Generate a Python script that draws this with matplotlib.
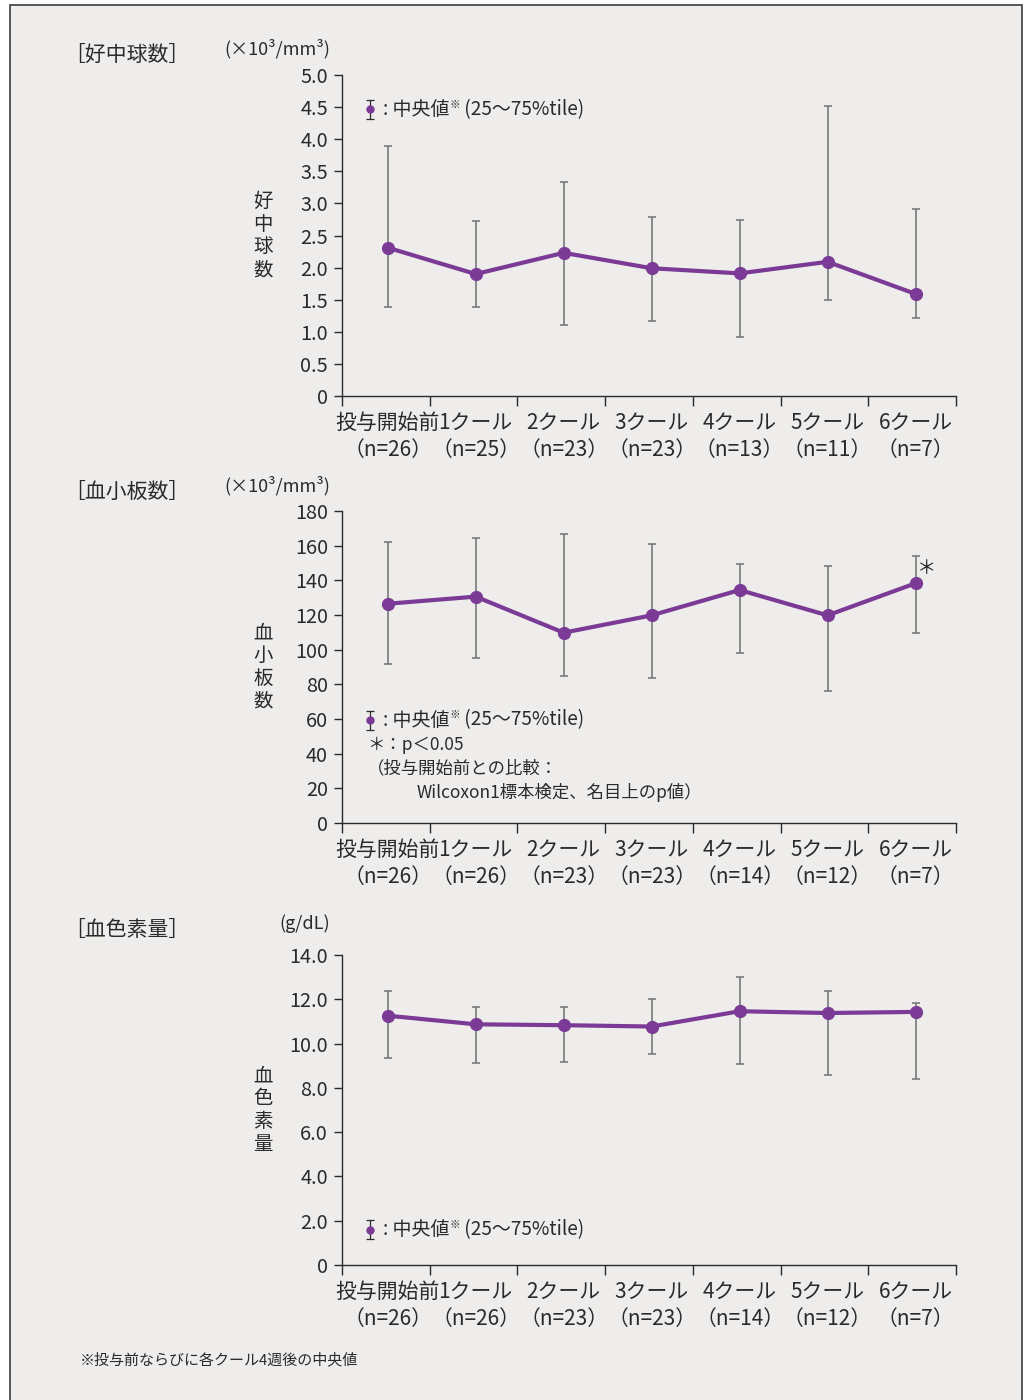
"""
Median blood counts (neutrophils, platelets, haemoglobin) before treatment
and after each course, with 25-75 percentile bars.
"""
import numpy as np
import matplotlib.pyplot as plt
from matplotlib.patches import Rectangle

plt.rcParams['font.family'] = ['Noto Sans CJK JP', 'DejaVu Sans']

PURPLE = '#7B3A96'
GREY = '#707070'
INK = '#2A2A2A'
PANEL_BG = '#EEEDEB'

STAGES = ['投与開始前', '1クール', '2クール', '3クール', '4クール', '5クール', '6クール']

# neutrophils (x10^3/mm^3)
neut_n = [26, 25, 23, 23, 13, 11, 7]
neut_med = [2.31, 1.90, 2.23, 1.99, 1.91, 2.09, 1.59]
neut_q25 = [1.39, 1.39, 1.11, 1.17, 0.92, 1.50, 1.21]
neut_q75 = [3.89, 2.73, 3.33, 2.79, 2.74, 4.52, 2.92]
neut_ticks = [0, 0.5, 1.0, 1.5, 2.0, 2.5, 3.0, 3.5, 4.0, 4.5, 5.0]
neut_ticklabels = ['0', '0.5', '1.0', '1.5', '2.0', '2.5', '3.0', '3.5', '4.0', '4.5', '5.0']

# platelets (x10^3/mm^3)
plt_n = [26, 26, 23, 23, 14, 12, 7]
plt_med = [126.5, 130.6, 109.8, 119.8, 134.4, 119.8, 138.3]
plt_q25 = [91.5, 95.0, 85.0, 83.5, 97.9, 76.3, 109.4]
plt_q75 = [161.9, 164.4, 166.9, 160.8, 149.6, 148.3, 154.0]
plt_sig = [False, False, False, False, False, False, True]
plt_ticks = [0, 20, 40, 60, 80, 100, 120, 140, 160, 180]
plt_ticklabels = ['0', '20', '40', '60', '80', '100', '120', '140', '160', '180']

# haemoglobin (g/dL)
hb_n = [26, 26, 23, 23, 14, 12, 7]
hb_med = [11.26, 10.87, 10.83, 10.77, 11.46, 11.38, 11.43]
hb_q25 = [9.35, 9.11, 9.17, 9.53, 9.07, 8.59, 8.38]
hb_q75 = [12.39, 11.67, 11.64, 12.00, 13.02, 12.39, 11.82]
hb_ticks = [0, 2, 4, 6, 8, 10, 12, 14]
hb_ticklabels = ['0', '2.0', '4.0', '6.0', '8.0', '10.0', '12.0', '14.0']

TICK_FS = 14.3
XLABEL_FS = 15
NOTE_FS = 12.5
KEY_FS = 13.7
XLIM = (-0.52, 6.46)


def draw_panel(ax, med, q25, q75, n, ticks, ticklabels, ylabel):
    x = np.arange(len(STAGES))
    med = np.asarray(med)
    err = [med - np.asarray(q25), np.asarray(q75) - med]

    ax.errorbar(x, med, yerr=err, fmt='none', ecolor=GREY, elinewidth=1.1,
                capsize=2.6, capthick=1.1, zorder=2)
    ax.plot(x, med, color=PURPLE, lw=3.0, marker='o', ms=8.5, zorder=3)

    ax.set_facecolor('none')
    for side in ('top', 'right'):
        ax.spines[side].set_visible(False)
    for side in ('left', 'bottom'):
        ax.spines[side].set_color(INK)
        ax.spines[side].set_linewidth(1.0)

    ax.set_xlim(*XLIM)
    ax.set_ylim(ticks[0], ticks[-1])
    ax.set_yticks(ticks)
    ax.set_yticklabels(ticklabels, fontsize=TICK_FS, color=INK)
    ax.tick_params(axis='y', length=6, width=1.0, color=INK, pad=4)

    # evenly spaced separator ticks, labels centred on the stages
    ax.set_xticks(np.linspace(XLIM[0], XLIM[1], len(STAGES) + 1))
    ax.set_xticklabels([])
    ax.tick_params(axis='x', which='major', length=7, width=1.0, color=INK)
    ax.set_xticks(x, minor=True)
    ax.set_xticklabels([f"{s}\n（n={k}）" for s, k in zip(STAGES, n)],
                       minor=True, fontsize=XLABEL_FS, color=INK, linespacing=1.3)
    ax.tick_params(axis='x', which='minor', length=0, pad=11.5)

    ax.set_ylabel("\n".join(ylabel), rotation=0, fontsize=14, color=INK,
                  ha='center', va='center', linespacing=1.12)
    ax.yaxis.set_label_coords(-0.129, 0.5)


def median_key(ax, y):
    """Errorbar glyph followed by ': 中央値※(25〜75%tile)'."""
    half = 9.5 / ax.bbox.height
    ax.errorbar([0.046], [y], yerr=[[half], [half]], transform=ax.transAxes,
                fmt='o', color=PURPLE, ms=5, ecolor=INK, elinewidth=0.9,
                capsize=3, capthick=0.9, clip_on=False, zorder=4)
    t1 = ax.text(0.066, y, ": 中央値", transform=ax.transAxes, fontsize=KEY_FS,
                 color=INK, ha='left', va='center')
    t2 = ax.annotate("※", xy=(1, 0.72), xycoords=t1, fontsize=7.5, color=INK,
                     ha='left', va='center')
    ax.annotate(" (25〜75%tile)", xy=(1, 0.5), xycoords=(t2, t1),
                fontsize=KEY_FS, color=INK, ha='left', va='center')


fig = plt.figure(figsize=(10.24, 14), dpi=100)
fig.patch.set_facecolor('white')
fig.patches.append(Rectangle((10 / 1024, -0.02), 1012 / 1024, 1.02 - 5 / 1400,
                             transform=fig.transFigure, facecolor=PANEL_BG,
                             edgecolor='#4A4A4A', linewidth=1.3, zorder=-1))

left, width = 342 / 1024, 614 / 1024
ax1 = fig.add_axes([left, 1 - 396 / 1400, width, 321 / 1400])
ax2 = fig.add_axes([left, 1 - 823 / 1400, width, 312 / 1400])
ax3 = fig.add_axes([left, 1 - 1265 / 1400, width, 310 / 1400])

draw_panel(ax1, neut_med, neut_q25, neut_q75, neut_n, neut_ticks, neut_ticklabels, "好中球数")
draw_panel(ax2, plt_med, plt_q25, plt_q75, plt_n, plt_ticks, plt_ticklabels, "血小板数")
draw_panel(ax3, hb_med, hb_q25, hb_q75, hb_n, hb_ticks, hb_ticklabels, "血色素量")

median_key(ax1, 0.893)
median_key(ax2, 0.330)
median_key(ax3, 0.113)

# significance marks on the platelet panel
for i, sig in enumerate(plt_sig):
    if sig:
        ax2.annotate("＊", xy=(i, plt_q75[i]), xytext=(8, -9), textcoords='offset points',
                     fontsize=14, color=INK, ha='center', va='center')

ax2.text(0.041, 0.25, "＊：p＜0.05", transform=ax2.transAxes, fontsize=NOTE_FS,
         color=INK, ha='left', va='center')
ax2.text(0.041, 0.176, "（投与開始前との比較：", transform=ax2.transAxes,
         fontsize=NOTE_FS, color=INK, ha='left', va='center')
ax2.text(0.122, 0.099, "Wilcoxon1標本検定、名目上のp値）", transform=ax2.transAxes,
         fontsize=NOTE_FS, color=INK, ha='left', va='center')

# panel titles and units
for title, unit, ytop in [("［好中球数］", "(×10³/mm³)", 55),
                          ("［血小板数］", "(×10³/mm³)", 492),
                          ("［血色素量］", "(g/dL)", 930)]:
    fig.text(64 / 1024, 1 - ytop / 1400, title, fontsize=15, color=INK,
             ha='left', va='center')
    fig.text(330 / 1024, 1 - (ytop - 6) / 1400, unit, fontsize=13, color=INK,
             ha='right', va='center')

fig.text(80 / 1024, 1 - 1360 / 1400, "※投与前ならびに各クール4週後の中央値",
         fontsize=10.8, color=INK, ha='left', va='center')

fig.savefig("out.png", dpi=100, facecolor=fig.get_facecolor())
